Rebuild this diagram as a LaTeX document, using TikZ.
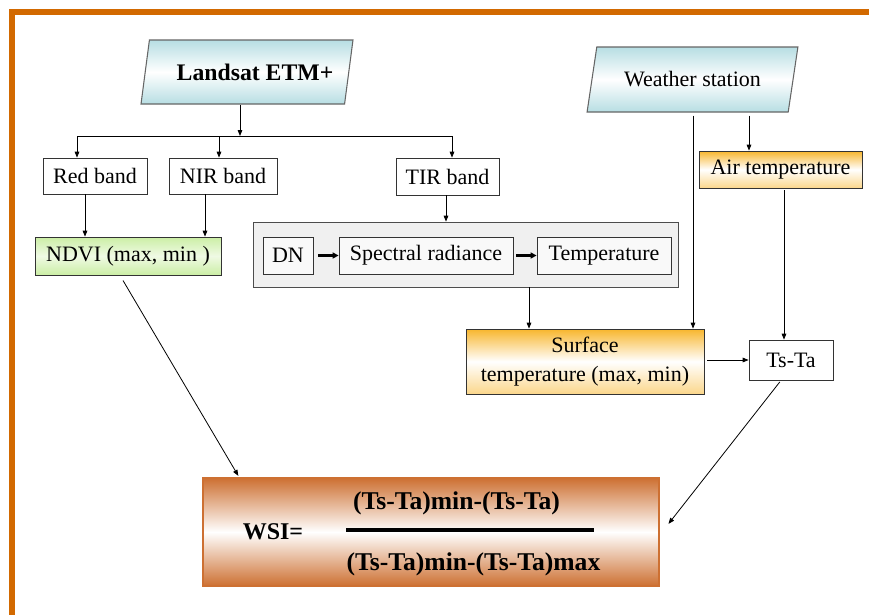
\documentclass[tikz,border=0pt]{standalone}
\usepackage{fontspec}
\setmainfont{Liberation Serif}
\usetikzlibrary{arrows.meta, positioning, shapes.geometric, calc}
\definecolor{framecol}{RGB}{210,105,0}
\definecolor{skyteal}{RGB}{183,222,227}
\definecolor{goldbox}{RGB}{248,182,45}
\definecolor{leafgreen}{RGB}{203,238,165}
\definecolor{wsiorange}{RGB}{205,112,50}

\begin{document}
\begin{tikzpicture}[
        x=0.75pt, y=-0.75pt,
        every node/.style={font=\fontsize{16.5}{21.75}\selectfont, inner sep=0pt},
        block/.style={rectangle, draw=black!80, line width=0.6pt, fill=white,
                      minimum height=27pt, align=center},
        source/.style={trapezium, trapezium left angle=66, trapezium right angle=114,
                       trapezium stretches=true, draw=black!60, line width=0.8pt,
                       top color=skyteal, bottom color=skyteal, middle color=white,
                       minimum width=159pt, minimum height=48pt},
        gold/.style={block, top color=goldbox, bottom color=goldbox!55, middle color=white},
        inner/.style={block, fill=gray!5, minimum height=27.75pt},
        arrow/.style={-{Triangle[length=4.5pt, width=3.5pt]}, line width=0.6pt},
        heavy/.style={-{Triangle[length=4.5pt, width=4.5pt]}, line width=1.8pt},
        wsitext/.style={font=\fontsize{19.2}{21}\selectfont\bfseries},
    ]
        \useasboundingbox (0,0) rectangle (869,615);
        \draw[framecol, line width=4.5pt] (12,615) -- (12,12) -- (869,12);

        % inputs
        \node[source, font=\fontsize{17.8}{20}\selectfont\bfseries] (landsat) at (247,72) {\hspace*{12pt}Landsat ETM+};
        \node[source, minimum width=158.25pt, minimum height=48.75pt] (weather) at (692.5,79.5) {Weather station};

        % bands
        \node[block, minimum width=78pt] (red) at (95,176) {Red band};
        \node[block, minimum width=81pt] (nir) at (223,176) {NIR band};
        \node[block, minimum width=77.25pt, minimum height=27.75pt] (tir) at (447.5,176.5) {TIR band};
        \node[block, minimum width=139.5pt, minimum height=28.5pt,
              top color=leafgreen, bottom color=leafgreen, middle color=leafgreen!30] (ndvi) at (128,256) {NDVI (max, min )};

        % thermal chain
        \node[block, draw=black!70, fill=gray!12, minimum width=318.75pt, minimum height=48.75pt] (chain) at (465.5,254.5) {};
        \node[inner, minimum width=37.5pt] (dn) at (288,255.5) {DN};
        \node[inner, minimum width=130.5pt] (radiance) at (426,255.5) {Spectral radiance};
        \node[inner, minimum width=100.5pt] (temp) at (604,255.5) {Temperature};

        \node[gold, minimum width=122.25pt, minimum height=27.75pt] (air) at (780.5,169.5) {Air temperature};
        \node[gold, minimum width=178.5pt, minimum height=48.75pt] (surf) at (585,361.5) {Surface\\temperature (max, min)};
        \node[block, minimum width=63pt, minimum height=30pt] (tsta) at (791,360) {Ts-Ta};

        % index
        \node[rectangle, draw=wsiorange, line width=1.5pt, top color=wsiorange, bottom color=wsiorange,
              middle color=white, minimum width=342pt, minimum height=81pt] (wsi) at (431,532) {};
        \node[font=\fontsize{18}{20}\selectfont\bfseries] (wsiname) at (273,532) {WSI=};
        \node[wsitext] (numer) at (456.5,503) {(Ts-Ta)min-(Ts-Ta)};
        \node[wsitext] (denom) at (473.5,564) {(Ts-Ta)min-(Ts-Ta)max};
        \draw[line width=2.4pt] (346,530) coordinate (barl) -- (594,530) coordinate (barr);

        % connectors
        \coordinate (split) at (240,136);
        \coordinate (redin) at ($(red.north)+(-18,0)$);
        \coordinate (nirin) at ($(nir.north)+(-4,0)$);
        \coordinate (tirin) at ($(tir.north)+(4.5,0)$);
        \draw[arrow] (landsat.south -| split) -- (split);
        \draw (redin |- split) -- (tirin |- split);
        \draw[arrow] (redin |- split) -- (redin);
        \draw[arrow] (nirin |- split) -- (nirin);
        \draw[arrow] (tirin |- split) -- (tirin);

        \draw[arrow] ($(red.south)+(-10,0)$) coordinate (r1) -- (r1 |- ndvi.north);
        \draw[arrow] ($(nir.south)+(-18,0)$) coordinate (n1) -- (n1 |- ndvi.north);
        \draw[arrow] ($(tir.south)+(-1.5,0)$) coordinate (t1) -- (t1 |- chain.north);

        \draw[heavy, shorten <=3.75pt] (dn) -- (radiance);
        \draw[heavy, shorten <=2.25pt] (radiance) -- (temp);

        \coordinate (surfin) at ($(surf.north)+(-56,0)$);
        \coordinate (airin) at ($(air.north)+(-31.5,0)$);
        \draw[arrow] (surfin |- chain.south) -- (surfin);
        \draw[arrow, shorten <=2.25pt] ($(weather.south)+(0.5,0)$) coordinate (w1) -- (w1 |- surf.north);
        \draw[arrow, shorten <=2.25pt] (airin |- weather.south) -- (airin);
        \draw[arrow, shorten <=1.5pt] ($(air.south)+(3.5,0)$) coordinate (a1) -- (a1 |- tsta.north);
        \draw[arrow, shorten <=2.25pt] (surf.east |- tsta.west) -- (tsta.west);

        \draw[arrow, shorten <=4.5pt, shorten >=1pt] ($(ndvi.south)+(-8,0)$) -- ($(wsi.north west)+(37,0)$);
        \draw[arrow, shorten <=1.5pt, shorten >=3pt] ($(tsta.south)+(-10,0)$) -- ($(wsi.east)+(6,-5)$);
    \end{tikzpicture}
\end{document}
